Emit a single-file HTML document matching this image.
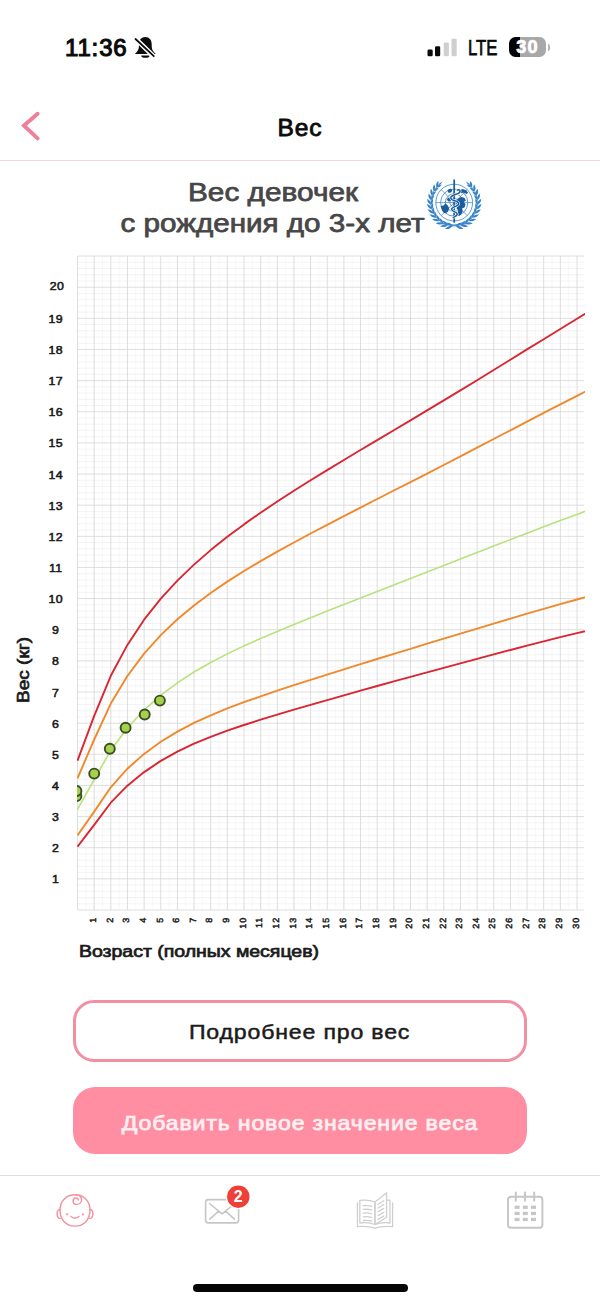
<!DOCTYPE html>
<html lang="ru">
<head>
<meta charset="utf-8">
<meta name="viewport" content="width=6">
<title>Вес</title>
<style>
*{box-sizing:border-box;margin:0;padding:0}
html,body{width:600px;height:1303px;background:#fff;overflow:hidden}
body{position:relative;font-family:"Liberation Sans",sans-serif;color:#111}
.abs{position:absolute}
svg{display:block;overflow:visible}
svg text,.ax{font-family:"Liberation Sans",sans-serif}
/* status bar */
.status{position:absolute;left:0;top:0;width:600px;height:90px}
.time{position:absolute;left:65px;top:33px;font-size:24px;font-weight:400;line-height:30px;letter-spacing:.85px;color:#0a0a0a;-webkit-text-stroke:1.1px #0a0a0a}
.lte{position:absolute;left:467.5px;top:36px;font-size:21.5px;line-height:24px;color:#0a0a0a;transform-origin:0 50%;transform:scaleX(.775);-webkit-text-stroke:.75px #0a0a0a}
.batt{position:absolute;left:508.8px;top:37px;width:37.6px;height:20.3px;border-radius:6.5px;background:linear-gradient(90deg,#050505 0,#050505 11.3px,#a8a8a8 11.3px);overflow:hidden}
.batt span{position:absolute;left:-.9px;top:0;width:38px;text-align:center;font-size:18.2px;font-weight:700;line-height:20.6px;color:#fff;letter-spacing:1px;text-indent:1px;-webkit-text-stroke:.7px #fff}
.nub{position:absolute;left:547.5px;top:43.5px;width:2.5px;height:7.5px;border-radius:0 2px 2px 0;background:#b5b5b5}
/* header */
.hdr{position:absolute;left:0;top:90px;width:600px;height:71px;border-bottom:1.5px solid #f4d3da}
.hdr h1{position:absolute;left:0;width:600px;top:22.5px;text-align:center;letter-spacing:1px;font-size:24.5px;font-weight:400;line-height:30px;color:#0b0b0b;-webkit-text-stroke:.85px #0b0b0b}
.title{position:absolute;left:0;top:165px;width:600px;height:80px}
.chart{position:absolute;left:0;top:240px}
/* buttons */
.btn{position:absolute;left:72.5px;width:454px;display:block;border:0;font-family:"Liberation Sans",sans-serif;text-align:center;white-space:nowrap}
.btn1{top:999.7px;height:62.8px;border:3px solid #f28fa3;border-radius:21px;background:#fff;color:#1b1b1b}
.btn2{top:1086.5px;height:67px;border-radius:22px;background:#ff8ea2;color:#fdeff2}
.btn span{display:inline-block;font-weight:400;font-size:21px;line-height:24px}
#b1{transform:scaleX(1.1);letter-spacing:.75px;-webkit-text-stroke:.5px #1b1b1b;margin-top:2.2px}
#b2{transform:scaleX(1.1);letter-spacing:.76px;-webkit-text-stroke:.75px #fdeff2;margin-top:6px}
/* nav */
.nav{position:absolute;left:0;top:1174.5px;width:600px;height:128.5px;border-top:1.5px solid #dedede;background:#fff}
.home{position:absolute;left:192.5px;top:1283.5px;width:215px;height:8.5px;border-radius:5px;background:#050505}
</style>
</head>
<body>
<div class="status">
  <div class="time">11:36</div>
  <svg class="abs" style="left:125px;top:28px" width="40" height="40" viewBox="125 28 40 40">
    <path d="M134.9 53.9C137.3 51.8 138.9 49.5 138.9 46.5V44.3C138.9 40.2 141.4 37.1 145.3 37.1C149.2 37.1 151.7 40.2 151.7 44.3V46.5C151.7 49.5 153.3 51.8 155.7 53.9Z" fill="#0c0c0c"/>
    <path d="M141.2 55.4a4.2 2.4 0 0 0 8.4 0z" fill="#0c0c0c"/>
    <path d="M134 37.1L155.6 58.2" stroke="#fff" stroke-width="4.8"/>
    <path d="M135.5 39L153.8 56.2" stroke="#0c0c0c" stroke-width="1.75" stroke-linecap="round"/>
  </svg>
  <svg class="abs" style="left:427px;top:37px" width="32" height="20" viewBox="0 0 32 20">
    <rect x=".5" y="12.5" width="5.2" height="6.8" rx="1.3" fill="#0a0a0a"/>
    <rect x="8" y="9.2" width="5.2" height="10.1" rx="1.3" fill="#0a0a0a"/>
    <rect x="16.7" y="5.5" width="5.2" height="13.8" rx="1.3" fill="#cfcfcf"/>
    <rect x="24.5" y="1.7" width="5.2" height="17.6" rx="1.3" fill="#cfcfcf"/>
  </svg>
  <div class="lte">LTE</div>
  <div class="batt"><span>30</span></div>
  <div class="nub"></div>
</div>
<header class="hdr">
  <svg class="abs" style="left:14px;top:16px" width="32" height="40" viewBox="14 106 32 40">
    <path d="M37.6 113.8L24 125.6L37.6 138.4" fill="none" stroke="#ee8197" stroke-width="4" stroke-linecap="round" stroke-linejoin="miter"/>
  </svg>
  <h1>Вес</h1>
</header>
<svg class="title" width="600" height="80" viewBox="0 165 600 80">
  <g font-weight="400" font-size="25" fill="#474747" stroke="#474747" stroke-width=".75" stroke-linejoin="round">
    <text x="188" y="201" textLength="170" lengthAdjust="spacingAndGlyphs">Вес девочек</text>
    <text x="120.5" y="232" textLength="304" lengthAdjust="spacingAndGlyphs">с рождения до 3-х лет</text>
  </g>
  <g transform="translate(454.2 202.6)">
<g><path d="M-3.26 23.17A23.4 23.4 0 0 0 15.96 -17.11" fill="none" stroke="#3583c9" stroke-width=".7"/><path transform="translate(1.63 23.34) rotate(22.0)" d="M0 0Q3.69 -2.30 8.20 0Q3.69 2.30 0 0Z" fill="#3583c9"/><path transform="translate(1.63 23.34) rotate(-28.0)" d="M0 0Q3.25 -2.10 7.22 0Q3.25 2.10 0 0Z" fill="#3583c9"/><path transform="translate(6.27 22.54) rotate(10.5)" d="M0 0Q3.62 -2.30 8.04 0Q3.62 2.30 0 0Z" fill="#3583c9"/><path transform="translate(6.27 22.54) rotate(-39.5)" d="M0 0Q3.18 -2.10 7.08 0Q3.18 2.10 0 0Z" fill="#3583c9"/><path transform="translate(10.66 20.83) rotate(-1.1)" d="M0 0Q3.55 -2.30 7.88 0Q3.55 2.30 0 0Z" fill="#3583c9"/><path transform="translate(10.66 20.83) rotate(-51.1)" d="M0 0Q3.12 -2.10 6.93 0Q3.12 2.10 0 0Z" fill="#3583c9"/><path transform="translate(14.61 18.28) rotate(-12.6)" d="M0 0Q3.47 -2.30 7.72 0Q3.47 2.30 0 0Z" fill="#3583c9"/><path transform="translate(14.61 18.28) rotate(-62.6)" d="M0 0Q3.06 -2.10 6.79 0Q3.06 2.10 0 0Z" fill="#3583c9"/><path transform="translate(17.97 14.98) rotate(-24.2)" d="M0 0Q3.40 -2.30 7.56 0Q3.40 2.30 0 0Z" fill="#3583c9"/><path transform="translate(17.97 14.98) rotate(-74.2)" d="M0 0Q2.99 -2.10 6.65 0Q2.99 2.10 0 0Z" fill="#3583c9"/><path transform="translate(20.61 11.08) rotate(-35.7)" d="M0 0Q3.33 -2.30 7.40 0Q3.33 2.30 0 0Z" fill="#3583c9"/><path transform="translate(20.61 11.08) rotate(-85.7)" d="M0 0Q2.93 -2.10 6.51 0Q2.93 2.10 0 0Z" fill="#3583c9"/><path transform="translate(22.41 6.73) rotate(-47.3)" d="M0 0Q3.26 -2.30 7.24 0Q3.26 2.30 0 0Z" fill="#3583c9"/><path transform="translate(22.41 6.73) rotate(-97.3)" d="M0 0Q2.87 -2.10 6.37 0Q2.87 2.10 0 0Z" fill="#3583c9"/><path transform="translate(23.30 2.11) rotate(-58.8)" d="M0 0Q3.19 -2.30 7.08 0Q3.19 2.30 0 0Z" fill="#3583c9"/><path transform="translate(23.30 2.11) rotate(-108.8)" d="M0 0Q2.80 -2.10 6.23 0Q2.80 2.10 0 0Z" fill="#3583c9"/><path transform="translate(23.26 -2.59) rotate(-70.4)" d="M0 0Q3.11 -2.30 6.92 0Q3.11 2.30 0 0Z" fill="#3583c9"/><path transform="translate(23.26 -2.59) rotate(-120.4)" d="M0 0Q2.74 -2.10 6.09 0Q2.74 2.10 0 0Z" fill="#3583c9"/><path transform="translate(22.27 -7.20) rotate(-81.9)" d="M0 0Q3.04 -2.30 6.76 0Q3.04 2.30 0 0Z" fill="#3583c9"/><path transform="translate(22.27 -7.20) rotate(-131.9)" d="M0 0Q2.68 -2.10 5.95 0Q2.68 2.10 0 0Z" fill="#3583c9"/><path transform="translate(20.38 -11.51) rotate(-93.5)" d="M0 0Q2.97 -2.30 6.60 0Q2.97 2.30 0 0Z" fill="#3583c9"/><path transform="translate(20.38 -11.51) rotate(-143.5)" d="M0 0Q2.61 -2.10 5.81 0Q2.61 2.10 0 0Z" fill="#3583c9"/><path transform="translate(17.66 -15.35) rotate(-105.0)" d="M0 0Q2.90 -2.30 6.44 0Q2.90 2.30 0 0Z" fill="#3583c9"/><path transform="translate(17.66 -15.35) rotate(-155.0)" d="M0 0Q2.55 -2.10 5.67 0Q2.55 2.10 0 0Z" fill="#3583c9"/><path transform="translate(15.96 -17.11) rotate(-137.0)" d="M-1 0Q2.5 -1.5 6 0Q2.5 1.5 -1 0Z" fill="#3583c9"/><path d="M-3.26 23.17Q-2 24.6 -6.5 26" fill="none" stroke="#3583c9" stroke-width=".9" stroke-linecap="round"/></g><g transform="scale(-1 1)"><path d="M-3.26 23.17A23.4 23.4 0 0 0 15.96 -17.11" fill="none" stroke="#3583c9" stroke-width=".7"/><path transform="translate(1.63 23.34) rotate(22.0)" d="M0 0Q3.69 -2.30 8.20 0Q3.69 2.30 0 0Z" fill="#3583c9"/><path transform="translate(1.63 23.34) rotate(-28.0)" d="M0 0Q3.25 -2.10 7.22 0Q3.25 2.10 0 0Z" fill="#3583c9"/><path transform="translate(6.27 22.54) rotate(10.5)" d="M0 0Q3.62 -2.30 8.04 0Q3.62 2.30 0 0Z" fill="#3583c9"/><path transform="translate(6.27 22.54) rotate(-39.5)" d="M0 0Q3.18 -2.10 7.08 0Q3.18 2.10 0 0Z" fill="#3583c9"/><path transform="translate(10.66 20.83) rotate(-1.1)" d="M0 0Q3.55 -2.30 7.88 0Q3.55 2.30 0 0Z" fill="#3583c9"/><path transform="translate(10.66 20.83) rotate(-51.1)" d="M0 0Q3.12 -2.10 6.93 0Q3.12 2.10 0 0Z" fill="#3583c9"/><path transform="translate(14.61 18.28) rotate(-12.6)" d="M0 0Q3.47 -2.30 7.72 0Q3.47 2.30 0 0Z" fill="#3583c9"/><path transform="translate(14.61 18.28) rotate(-62.6)" d="M0 0Q3.06 -2.10 6.79 0Q3.06 2.10 0 0Z" fill="#3583c9"/><path transform="translate(17.97 14.98) rotate(-24.2)" d="M0 0Q3.40 -2.30 7.56 0Q3.40 2.30 0 0Z" fill="#3583c9"/><path transform="translate(17.97 14.98) rotate(-74.2)" d="M0 0Q2.99 -2.10 6.65 0Q2.99 2.10 0 0Z" fill="#3583c9"/><path transform="translate(20.61 11.08) rotate(-35.7)" d="M0 0Q3.33 -2.30 7.40 0Q3.33 2.30 0 0Z" fill="#3583c9"/><path transform="translate(20.61 11.08) rotate(-85.7)" d="M0 0Q2.93 -2.10 6.51 0Q2.93 2.10 0 0Z" fill="#3583c9"/><path transform="translate(22.41 6.73) rotate(-47.3)" d="M0 0Q3.26 -2.30 7.24 0Q3.26 2.30 0 0Z" fill="#3583c9"/><path transform="translate(22.41 6.73) rotate(-97.3)" d="M0 0Q2.87 -2.10 6.37 0Q2.87 2.10 0 0Z" fill="#3583c9"/><path transform="translate(23.30 2.11) rotate(-58.8)" d="M0 0Q3.19 -2.30 7.08 0Q3.19 2.30 0 0Z" fill="#3583c9"/><path transform="translate(23.30 2.11) rotate(-108.8)" d="M0 0Q2.80 -2.10 6.23 0Q2.80 2.10 0 0Z" fill="#3583c9"/><path transform="translate(23.26 -2.59) rotate(-70.4)" d="M0 0Q3.11 -2.30 6.92 0Q3.11 2.30 0 0Z" fill="#3583c9"/><path transform="translate(23.26 -2.59) rotate(-120.4)" d="M0 0Q2.74 -2.10 6.09 0Q2.74 2.10 0 0Z" fill="#3583c9"/><path transform="translate(22.27 -7.20) rotate(-81.9)" d="M0 0Q3.04 -2.30 6.76 0Q3.04 2.30 0 0Z" fill="#3583c9"/><path transform="translate(22.27 -7.20) rotate(-131.9)" d="M0 0Q2.68 -2.10 5.95 0Q2.68 2.10 0 0Z" fill="#3583c9"/><path transform="translate(20.38 -11.51) rotate(-93.5)" d="M0 0Q2.97 -2.30 6.60 0Q2.97 2.30 0 0Z" fill="#3583c9"/><path transform="translate(20.38 -11.51) rotate(-143.5)" d="M0 0Q2.61 -2.10 5.81 0Q2.61 2.10 0 0Z" fill="#3583c9"/><path transform="translate(17.66 -15.35) rotate(-105.0)" d="M0 0Q2.90 -2.30 6.44 0Q2.90 2.30 0 0Z" fill="#3583c9"/><path transform="translate(17.66 -15.35) rotate(-155.0)" d="M0 0Q2.55 -2.10 5.67 0Q2.55 2.10 0 0Z" fill="#3583c9"/><path transform="translate(15.96 -17.11) rotate(-137.0)" d="M-1 0Q2.5 -1.5 6 0Q2.5 1.5 -1 0Z" fill="#3583c9"/><path d="M-3.26 23.17Q-2 24.6 -6.5 26" fill="none" stroke="#3583c9" stroke-width=".9" stroke-linecap="round"/></g>
<path d="M-12.5 21.2Q0 23.4 12.5 21.2" fill="none" stroke="#3583c9" stroke-width=".9"/>
<g fill="none" stroke="#3583c9" stroke-width=".8">
<circle r="18.4"/>
<circle r="13.6"/>
<circle r="8.9"/>
<circle r="4.3"/>
<path d="M-18.4 0H18.4M0 -18.4V18.4M-13 -13L13 13M13 -13L-13 13" stroke-width=".7"/>
</g>
<g fill="#1b5c9c">
<path d="M-13.6 3.4l3 -.4l1.6 -2.200l2.4 1.800l1.5 2.800l-.8 3.200l-2.3 2l-2.4 -.5l-1.8 -2.600z"/>
<path d="M3.4 -3.6l3.4 -2l3.4 .8l1.5 2.6l-2.2 1.6l1.8 2.2l-.8 3l-2.6 1.4l.6 2.6l-1.4 3l-2 1.6l-1.8 -2.4l.8 -3l-1.9 -2.2l1.1 -2.8l-1.8 -2.6z"/>
<path d="M-6.8 -12.600l3.2 -1.600l1.8 1.500l-1 2.300l-2.8 .9z"/>
<path d="M5.4 -11.800l2.6 -1.900l3.4 1.100l2.6 2.700l-1.7 1.400l-2.7 -1.500l-2.4 .7z"/>
<path d="M-7.4 -3.600l2.3 -1.600l2 1.200l-.5 2.300l-2.5 .5z"/>
</g>
<path d="M0 -22.600V19.4" stroke="#1b5c9c" stroke-width="1.7" stroke-linecap="round" fill="none"/>
<path d="M3 -12.500c2.6 -1.6 4.3 1.7 1.2 3.300c-3.2 1.6 -8.2 1.9 -7.6 4.900c.6 2.8 8.4 2.2 8 5.600c-.4 3 -7.6 2.6 -7.2 5.600c.4 2.6 6.2 2.2 5.6 4.800c-.4 1.7 -2.6 2.1 -4 3.3" fill="none" stroke="#fff" stroke-width="2.6" stroke-linecap="round"/>
<path d="M3 -12.500c2.6 -1.6 4.3 1.7 1.2 3.300c-3.2 1.6 -8.2 1.9 -7.6 4.900c.6 2.8 8.4 2.2 8 5.600c-.4 3 -7.6 2.6 -7.2 5.600c.4 2.6 6.2 2.2 5.6 4.800c-.4 1.7 -2.6 2.1 -4 3.3" fill="none" stroke="#1b5c9c" stroke-width="1.5" stroke-linecap="round"/>
</g>
</svg>
<main>
<svg class="chart" width="600" height="760" viewBox="0 240 600 760">
<defs><clipPath id="plot"><rect x="77.0" y="256.1" width="508.0" height="653.9"/></clipPath></defs>
<path d="M85.83 256.1V910.0M102.47 256.1V910.0M119.12 256.1V910.0M135.77 256.1V910.0M152.43 256.1V910.0M169.07 256.1V910.0M185.72 256.1V910.0M202.38 256.1V910.0M219.02 256.1V910.0M235.67 256.1V910.0M252.32 256.1V910.0M268.98 256.1V910.0M285.62 256.1V910.0M302.27 256.1V910.0M318.92 256.1V910.0M335.57 256.1V910.0M352.22 256.1V910.0M368.88 256.1V910.0M385.52 256.1V910.0M402.17 256.1V910.0M418.82 256.1V910.0M435.47 256.1V910.0M452.12 256.1V910.0M468.77 256.1V910.0M485.42 256.1V910.0M502.07 256.1V910.0M518.72 256.1V910.0M535.38 256.1V910.0M552.02 256.1V910.0M568.67 256.1V910.0" stroke="#f5f5f5" stroke-width=".7" fill="none"/>
<path d="M77.5 903.77H584.0M77.5 897.54H584.0M77.5 891.32H584.0M77.5 885.09H584.0M77.5 872.63H584.0M77.5 866.40H584.0M77.5 860.18H584.0M77.5 853.95H584.0M77.5 841.49H584.0M77.5 835.26H584.0M77.5 829.04H584.0M77.5 822.81H584.0M77.5 810.35H584.0M77.5 804.12H584.0M77.5 797.90H584.0M77.5 791.67H584.0M77.5 779.21H584.0M77.5 772.98H584.0M77.5 766.76H584.0M77.5 760.53H584.0M77.5 748.07H584.0M77.5 741.84H584.0M77.5 735.62H584.0M77.5 729.39H584.0M77.5 716.93H584.0M77.5 710.70H584.0M77.5 704.48H584.0M77.5 698.25H584.0M77.5 685.79H584.0M77.5 679.56H584.0M77.5 673.34H584.0M77.5 667.11H584.0M77.5 654.65H584.0M77.5 648.42H584.0M77.5 642.20H584.0M77.5 635.97H584.0M77.5 623.51H584.0M77.5 617.28H584.0M77.5 611.06H584.0M77.5 604.83H584.0M77.5 592.37H584.0M77.5 586.14H584.0M77.5 579.92H584.0M77.5 573.69H584.0M77.5 561.23H584.0M77.5 555.00H584.0M77.5 548.78H584.0M77.5 542.55H584.0M77.5 530.09H584.0M77.5 523.86H584.0M77.5 517.64H584.0M77.5 511.41H584.0M77.5 498.95H584.0M77.5 492.72H584.0M77.5 486.50H584.0M77.5 480.27H584.0M77.5 467.81H584.0M77.5 461.58H584.0M77.5 455.36H584.0M77.5 449.13H584.0M77.5 436.67H584.0M77.5 430.44H584.0M77.5 424.22H584.0M77.5 417.99H584.0M77.5 405.53H584.0M77.5 399.30H584.0M77.5 393.08H584.0M77.5 386.85H584.0M77.5 374.39H584.0M77.5 368.16H584.0M77.5 361.94H584.0M77.5 355.71H584.0M77.5 343.25H584.0M77.5 337.02H584.0M77.5 330.80H584.0M77.5 324.57H584.0M77.5 312.11H584.0M77.5 305.88H584.0M77.5 299.66H584.0M77.5 293.43H584.0M77.5 280.97H584.0M77.5 274.74H584.0M77.5 268.52H584.0M77.5 262.29H584.0" stroke="#eeeeee" stroke-width=".7" fill="none"/>
<path d="M77.5 910.00H584.0M77.5 878.86H584.0M77.5 847.72H584.0M77.5 816.58H584.0M77.5 785.44H584.0M77.5 754.30H584.0M77.5 723.16H584.0M77.5 692.02H584.0M77.5 660.88H584.0M77.5 629.74H584.0M77.5 598.60H584.0M77.5 567.46H584.0M77.5 536.32H584.0M77.5 505.18H584.0M77.5 474.04H584.0M77.5 442.90H584.0M77.5 411.76H584.0M77.5 380.62H584.0M77.5 349.48H584.0M77.5 318.34H584.0M77.5 287.20H584.0M77.5 256.06H584.0M77.50 256.1V910.0M94.15 256.1V910.0M110.80 256.1V910.0M127.45 256.1V910.0M144.10 256.1V910.0M160.75 256.1V910.0M177.40 256.1V910.0M194.05 256.1V910.0M210.70 256.1V910.0M227.35 256.1V910.0M244.00 256.1V910.0M260.65 256.1V910.0M277.30 256.1V910.0M293.95 256.1V910.0M310.60 256.1V910.0M327.25 256.1V910.0M343.90 256.1V910.0M360.55 256.1V910.0M377.20 256.1V910.0M393.85 256.1V910.0M410.50 256.1V910.0M427.15 256.1V910.0M443.80 256.1V910.0M460.45 256.1V910.0M477.10 256.1V910.0M493.75 256.1V910.0M510.40 256.1V910.0M527.05 256.1V910.0M543.70 256.1V910.0M560.35 256.1V910.0M577.00 256.1V910.0" stroke="#d3d3d3" stroke-width=".75" fill="none"/>
<g clip-path="url(#plot)" fill="none" stroke-linejoin="round">
<polyline points="77.5,809.3 94.2,779.6 110.8,750.3 127.4,728.0 144.1,710.0 160.8,695.2 177.4,682.8 194.0,672.0 210.7,662.5 227.3,653.9 244.0,645.9 260.6,638.5 277.3,631.4 293.9,624.4 310.6,617.7 327.2,611.0 343.9,604.4 360.5,597.9 377.2,591.4 393.8,584.9 410.5,578.5 427.1,572.0 443.8,565.6 460.4,559.1 477.1,552.6 493.7,546.1 510.4,539.6 527.0,533.2 543.7,526.8 560.3,520.5 577.0,514.4 593.6,508.3" stroke="#b9e27c" stroke-width="1.6"/>
<polyline points="77.5,835.4 94.2,811.6 110.8,787.3 127.4,768.7 144.1,753.9 160.8,741.7 177.4,731.6 194.0,722.9 210.7,715.3 227.3,708.4 244.0,702.2 260.6,696.3 277.3,690.7 293.9,685.2 310.6,679.9 327.2,674.6 343.9,669.4 360.5,664.2 377.2,659.0 393.8,653.9 410.5,648.8 427.1,643.7 443.8,638.7 460.4,633.7 477.1,628.6 493.7,623.6 510.4,618.6 527.0,613.7 543.7,608.9 560.3,604.1 577.0,599.5 593.6,595.0" stroke="#f0892b" stroke-width="1.9"/>
<polyline points="77.5,778.3 94.2,739.5 110.8,703.6 127.4,676.0 144.1,653.6 160.8,635.1 177.4,619.3 194.0,605.4 210.7,593.0 227.3,581.6 244.0,571.0 260.6,561.1 277.3,551.6 293.9,542.5 310.6,533.5 327.2,524.8 343.9,516.1 360.5,507.6 377.2,499.0 393.8,490.5 410.5,482.1 427.1,473.6 443.8,465.0 460.4,456.4 477.1,447.7 493.7,439.0 510.4,430.3 527.0,421.6 543.7,412.9 560.3,404.3 577.0,395.8 593.6,387.3" stroke="#f0892b" stroke-width="1.9"/>
<polyline points="77.5,846.7 94.2,824.9 110.8,802.7 127.4,785.7 144.1,772.1 160.8,760.9 177.4,751.6 194.0,743.7 210.7,736.8 227.3,730.6 244.0,725.0 260.6,719.7 277.3,714.6 293.9,709.7 310.6,704.9 327.2,700.1 343.9,695.4 360.5,690.7 377.2,686.0 393.8,681.4 410.5,676.8 427.1,672.3 443.8,667.8 460.4,663.3 477.1,658.8 493.7,654.4 510.4,650.0 527.0,645.6 543.7,641.4 560.3,637.2 577.0,633.2 593.6,629.2" stroke="#d92632" stroke-width="1.9"/>
<polyline points="77.5,760.7 94.2,715.9 110.8,675.8 127.4,644.9 144.1,619.7 160.8,598.6 177.4,580.6 194.0,564.6 210.7,550.1 227.3,536.8 244.0,524.4 260.6,512.7 277.3,501.5 293.9,490.8 310.6,480.3 327.2,470.1 343.9,460.0 360.5,450.0 377.2,440.1 393.8,430.2 410.5,420.4 427.1,410.4 443.8,400.4 460.4,390.4 477.1,380.2 493.7,370.0 510.4,359.7 527.0,349.4 543.7,339.2 560.3,329.0 577.0,318.8 593.6,308.7" stroke="#d92632" stroke-width="1.9"/>
<circle cx="76.4" cy="796.1" r="5.0" fill="#a5d14c" stroke="#394f22" stroke-width="1.9"/>
<circle cx="76.4" cy="791.0" r="5.0" fill="#a5d14c" stroke="#394f22" stroke-width="1.9"/>
<circle cx="94.2" cy="773.6" r="5.0" fill="#a5d14c" stroke="#394f22" stroke-width="1.9"/>
<circle cx="109.8" cy="748.8" r="5.0" fill="#a5d14c" stroke="#394f22" stroke-width="1.9"/>
<circle cx="125.6" cy="727.7" r="5.0" fill="#a5d14c" stroke="#394f22" stroke-width="1.9"/>
<circle cx="144.7" cy="714.5" r="5.0" fill="#a5d14c" stroke="#394f22" stroke-width="1.9"/>
<circle cx="159.9" cy="700.6" r="5.0" fill="#a5d14c" stroke="#394f22" stroke-width="1.9"/>
</g>
<g class="ax" font-size="11.2" font-weight="400" fill="#1a1a1a" stroke="#1a1a1a" stroke-width=".55" text-anchor="middle">
<text transform="translate(55.5 883.4) scale(1.1 1)" letter-spacing="0">1</text>
<text transform="translate(55.5 852.2) scale(1.1 1)" letter-spacing="0">2</text>
<text transform="translate(55.5 821.1) scale(1.1 1)" letter-spacing="0">3</text>
<text transform="translate(55.5 789.9) scale(1.1 1)" letter-spacing="0">4</text>
<text transform="translate(55.5 758.8) scale(1.1 1)" letter-spacing="0">5</text>
<text transform="translate(55.5 727.7) scale(1.1 1)" letter-spacing="0">6</text>
<text transform="translate(55.5 696.5) scale(1.1 1)" letter-spacing="0">7</text>
<text transform="translate(55.5 665.4) scale(1.1 1)" letter-spacing="0">8</text>
<text transform="translate(55.5 634.2) scale(1.1 1)" letter-spacing="0">9</text>
<text transform="translate(55.8 603.1) scale(1.1 1)" letter-spacing="0.4">10</text>
<text transform="translate(55.8 572.0) scale(1.1 1)" letter-spacing="0.4">11</text>
<text transform="translate(55.8 540.8) scale(1.1 1)" letter-spacing="0.4">12</text>
<text transform="translate(55.8 509.7) scale(1.1 1)" letter-spacing="0.4">13</text>
<text transform="translate(55.8 478.5) scale(1.1 1)" letter-spacing="0.4">14</text>
<text transform="translate(55.8 447.4) scale(1.1 1)" letter-spacing="0.4">15</text>
<text transform="translate(55.8 416.3) scale(1.1 1)" letter-spacing="0.4">16</text>
<text transform="translate(55.8 385.1) scale(1.1 1)" letter-spacing="0.4">17</text>
<text transform="translate(55.8 354.0) scale(1.1 1)" letter-spacing="0.4">18</text>
<text transform="translate(55.8 322.8) scale(1.1 1)" letter-spacing="0.4">19</text>
<text transform="translate(57.0 290.4) scale(1.1 1)" letter-spacing="0.4">20</text>
</g>
<g class="ax" font-size="9" font-weight="400" fill="#1a1a1a" stroke="#1a1a1a" stroke-width=".45" text-anchor="end" text-rendering="geometricPrecision">
<text transform="translate(95.9 917.7) rotate(-90)" letter-spacing="0">1</text>
<text transform="translate(112.5 917.7) rotate(-90)" letter-spacing="0">2</text>
<text transform="translate(129.2 917.7) rotate(-90)" letter-spacing="0">3</text>
<text transform="translate(145.8 917.7) rotate(-90)" letter-spacing="0">4</text>
<text transform="translate(162.5 917.7) rotate(-90)" letter-spacing="0">5</text>
<text transform="translate(179.1 917.7) rotate(-90)" letter-spacing="0">6</text>
<text transform="translate(195.8 917.7) rotate(-90)" letter-spacing="0">7</text>
<text transform="translate(212.4 917.7) rotate(-90)" letter-spacing="0">8</text>
<text transform="translate(229.1 917.7) rotate(-90)" letter-spacing="0">9</text>
<text transform="translate(245.7 916.9) rotate(-90)" letter-spacing="0.9">10</text>
<text transform="translate(262.3 916.9) rotate(-90)" letter-spacing="0.9">11</text>
<text transform="translate(279.0 916.9) rotate(-90)" letter-spacing="0.9">12</text>
<text transform="translate(295.6 916.9) rotate(-90)" letter-spacing="0.9">13</text>
<text transform="translate(312.3 916.9) rotate(-90)" letter-spacing="0.9">14</text>
<text transform="translate(328.9 916.9) rotate(-90)" letter-spacing="0.9">15</text>
<text transform="translate(345.6 916.9) rotate(-90)" letter-spacing="0.9">16</text>
<text transform="translate(362.2 916.9) rotate(-90)" letter-spacing="0.9">17</text>
<text transform="translate(378.9 916.9) rotate(-90)" letter-spacing="0.9">18</text>
<text transform="translate(395.5 916.9) rotate(-90)" letter-spacing="0.9">19</text>
<text transform="translate(412.2 916.9) rotate(-90)" letter-spacing="0.9">20</text>
<text transform="translate(428.8 916.9) rotate(-90)" letter-spacing="0.9">21</text>
<text transform="translate(445.5 916.9) rotate(-90)" letter-spacing="0.9">22</text>
<text transform="translate(462.1 916.9) rotate(-90)" letter-spacing="0.9">23</text>
<text transform="translate(478.8 916.9) rotate(-90)" letter-spacing="0.9">24</text>
<text transform="translate(495.4 916.9) rotate(-90)" letter-spacing="0.9">25</text>
<text transform="translate(512.1 916.9) rotate(-90)" letter-spacing="0.9">26</text>
<text transform="translate(528.7 916.9) rotate(-90)" letter-spacing="0.9">27</text>
<text transform="translate(545.4 916.9) rotate(-90)" letter-spacing="0.9">28</text>
<text transform="translate(562.0 916.9) rotate(-90)" letter-spacing="0.9">29</text>
<text transform="translate(578.7 916.9) rotate(-90)" letter-spacing="0.9">30</text>
</g>
<text class="ax" font-size="16" font-weight="400" fill="#1a1a1a" stroke="#1a1a1a" stroke-width=".7" text-anchor="middle" transform="translate(29.3 670) rotate(-90)" textLength="66" lengthAdjust="spacingAndGlyphs">Вес (кг)</text>
<text class="ax" font-size="15.8" font-weight="400" fill="#1a1a1a" stroke="#1a1a1a" stroke-width=".7" x="79" y="957" textLength="240" lengthAdjust="spacingAndGlyphs">Возраст (полных месяцев)</text>
</svg>
</main>
<button class="btn btn1"><span id="b1">Подробнее про вес</span></button>
<button class="btn btn2"><span id="b2">Добавить новое значение веса</span></button>
<nav class="nav">
<svg class="abs" style="left:0;top:0" width="600" height="128" viewBox="0 1176 600 128">
<g fill="none" stroke="#f4909f" stroke-width="1.4" stroke-linecap="round" stroke-linejoin="round">
<path d="M75 1194.700c8.6 0 15 6.3 15 15.400c0 9.6 -6.2 16 -15 16s-15 -6.4 -15 -16c0 -9.1 6.4 -15.4 15 -15.400z"/>
<path d="M60.1 1209.6c-2 -.3 -3 1.9 -3 4.300s1.2 4.700 3.200 4.500"/>
<path d="M89.9 1209.6c2 -.3 3 1.9 3 4.300s-1.2 4.700 -3.200 4.500"/>
<path d="M75.8 1194.800c3.6 .1 5.7 2.4 5.7 5.100c0 2.6 -2 4.5 -4.5 4.500c-2.2 0 -3.9 -1.5 -3.9 -3.500c0 -1.7 1.3 -2.9 2.9 -2.900c1.3 0 2.2 .9 2.2 2"/>
<path d="M71 1216.400c2 2.500 6 2.500 8 0"/>
</g>
<circle cx="67.1" cy="1214.3" r="1.1" fill="#f4909f"/><circle cx="83" cy="1214.3" r="1.1" fill="#f4909f"/>
<g fill="none" stroke="#c6c6c6" stroke-width="1.6" stroke-linecap="round" stroke-linejoin="round">
<rect x="205.6" y="1199.6" width="33" height="23.3" rx="2.6"/>
<path d="M209.5 1203.500l12.6 10.400l12.6 -10.400M209.8 1219.200l8.8 -8M234.4 1219.200l-8.8 -8"/>
</g>
<circle cx="238.3" cy="1196.7" r="12.6" fill="#fff"/>
<circle cx="238.3" cy="1196.7" r="11.2" fill="#ee3f38"/>
<text x="238.3" y="1202.4" text-anchor="middle" font-size="16" font-weight="700" fill="#fff">2</text>
<g fill="none" stroke="#cfcfcf" stroke-width="1.3" stroke-linecap="round" stroke-linejoin="round">
<path d="M375 1224.500c-4.5 -1.8 -9.5 -2.2 -15.2 -1.500v-22.600c5.7 -.8 10.7 -.3 15.2 1.600z"/>
<path d="M375 1202v22.500l11.6 -7.200v-24.600z"/>
<path d="M386.6 1200.200h3.400v22.800c-5.6 -.7 -10.5 -.3 -15 1.5"/>
<path d="M357.4 1203v23.600c6.4 -.6 12.2 -.4 17.6 1.600c5.4 -2 11.2 -2.2 17.6 -1.600v-23.6"/>
<path d="M363.2 1205.700c2.9 -.3 5.6 -.2 8.4 .5M363.2 1209.400c2.9 -.3 5.6 -.2 8.4 .5M363.2 1213.100c2.9 -.3 5.6 -.2 8.4 .5M363.2 1216.800c2.9 -.3 5.6 -.2 8.4 .5M363.2 1220.500c2.9 -.3 5.6 -.2 8.4 .5"/>
<path d="M378 1204.200l5.8 -3.400M378 1208l5.8 -3.400M378 1211.800l5.8 -3.400M378 1215.600l5.8 -3.400M378 1219.400l5.8 -3.4"/>
</g>
<g fill="none" stroke="#c6c6c6" stroke-width="1.9" stroke-linecap="round" stroke-linejoin="round">
<rect x="508" y="1196.8" width="34.4" height="31" rx="3"/>
<path d="M515.8 1192.600v8.200M525 1192.600v8.200M534.2 1192.600v8.2" stroke-width="2"/>
</g>
<g fill="#c6c6c6">
<rect x="514.6" y="1205.6" width="5" height="3.3"/>
<rect x="522.8" y="1205.6" width="5" height="3.3"/>
<rect x="531" y="1205.6" width="5" height="3.3"/>
<rect x="514.6" y="1211.8" width="5" height="3.3"/>
<rect x="522.8" y="1211.8" width="5" height="3.3"/>
<rect x="531" y="1211.8" width="5" height="3.3"/>
<rect x="514.6" y="1217.8" width="5" height="3.3"/>
<rect x="522.8" y="1217.8" width="5" height="3.3"/>
<rect x="531" y="1217.8" width="5" height="3.3"/>
</g>
</svg>
</nav>
<div class="home"></div>
</body>
</html>
